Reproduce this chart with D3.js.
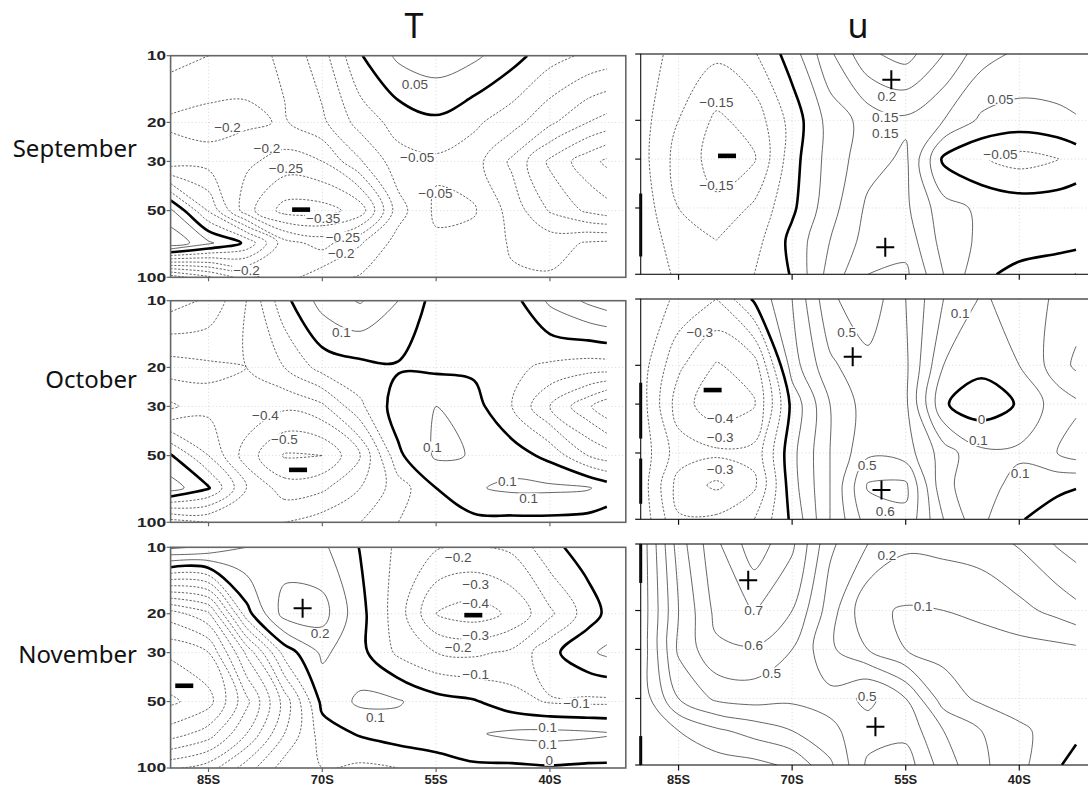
<!DOCTYPE html>
<html>
<head>
<meta charset="utf-8">
<script src="https://cdn.jsdelivr.net/npm/d3@7"></script>
<style>
  body { margin: 0; background: #fff; }
  svg { display: block; }
</style>
</head>
<body>
<svg id="chart" width="1088" height="787"></svg>
<script>
// grid: latitude (deg S) by pressure level (hPa)
const lats = [90, 85, 80, 75, 70, 65, 60, 55, 50, 45, 40, 35, 32.5];
const levels = [10, 20, 30, 50, 70, 100];

const tSep = [
  [-0.27, -0.25, -0.22, -0.19, -0.12, -0.004, 0.06, 0.08, 0.06, 0.02, -0.03, -0.06, -0.07],
  [-0.19, -0.18, -0.19, -0.205, -0.16, -0.08, -0.03, -0.01, -0.04, -0.08, -0.14, -0.2, -0.22],
  [-0.23, -0.22, -0.24, -0.27, -0.25, -0.155, -0.07, -0.06, -0.08, -0.16, -0.26, -0.33, -0.36],
  [0.06, -0.105, -0.28, -0.37, -0.37, -0.33, -0.12, -0.04, -0.045, -0.12, -0.205, -0.26, -0.28],
  [0.14, 0.06, -0.01, -0.18, -0.22, -0.155, -0.08, -0.06, -0.07, -0.105, -0.12, -0.095, -0.09],
  [-0.38, -0.31, -0.22, -0.17, -0.12, -0.095, -0.08, -0.07, -0.08, -0.095, -0.095, -0.08, -0.07]
];
const tOct = [
  [-0.55, -0.48, -0.3, -0.03, 0.14, 0.21, 0.1, -0.04, -0.05, -0.04, 0.12, 0.22, 0.26],
  [-0.25, -0.28, -0.3, -0.2, -0.06, -0.03, -0.01, -0.02, -0.02, -0.08, -0.12, -0.15, -0.15],
  [-0.42, -0.33, -0.32, -0.38, -0.32, -0.12, 0.05, 0.1, 0.04, -0.1, -0.3, -0.48, -0.58],
  [0.01, -0.2, -0.45, -0.61, -0.6, -0.4, -0.02, 0.115, 0.095, 0.05, -0.03, -0.2, -0.25],
  [0.15, 0.01, -0.3, -0.45, -0.42, -0.3, -0.15, 0.0, 0.09, 0.12, 0.12, 0.11, 0.06],
  [-0.45, -0.4, -0.35, -0.3, -0.25, -0.2, -0.1, -0.05, -0.03, -0.03, -0.03, -0.04, -0.05]
];
const tNov = [
  [0.32, 0.28, 0.2, 0.15, 0.12, -0.005, -0.12, -0.19, -0.21, -0.18, -0.03, 0.05, 0.1],
  [-0.75, -0.62, -0.04, 0.24, 0.24, 0.03, -0.15, -0.4, -0.45, -0.38, -0.22, -0.05, 0.02],
  [-0.98, -0.9, -0.48, -0.06, 0.12, 0.03, -0.12, -0.2, -0.22, -0.18, -0.03, 0.08, 0.12],
  [-1.12, -1.04, -0.73, -0.36, 0.03, 0.12, 0.11, 0.04, 0.01, -0.06, -0.11, -0.12, -0.12],
  [-0.95, -0.85, -0.6, -0.3, -0.05, 0.01, 0.05, 0.07, 0.09, 0.12, 0.13, 0.12, 0.11],
  [-0.62, -0.55, -0.35, -0.15, -0.1, -0.12, -0.1, -0.06, -0.02, -0.02, -0.01, -0.02, -0.02]
];
const uSep = [
  [-0.02, -0.07, -0.09, -0.055, 0.025, 0.14, 0.24, 0.27, 0.2, 0.12, 0.09, 0.08, 0.07],
  [-0.03, -0.1, -0.16, -0.13, -0.03, 0.07, 0.12, 0.14, 0.1, 0.04, 0.03, 0.04, 0.048],
  [-0.03, -0.12, -0.17, -0.155, -0.02, 0.07, 0.13, 0.16, -0.01, -0.045, -0.07, -0.052, -0.03],
  [-0.02, -0.1, -0.14, -0.09, -0.01, 0.08, 0.16, 0.16, 0.07, 0.04, 0.03, 0.03, 0.03],
  [-0.01, -0.08, -0.1, -0.07, 0.015, 0.1, 0.17, 0.18, 0.08, 0.04, 0.025, 0.02, 0.02],
  [-0.01, -0.06, -0.08, -0.05, 0.004, 0.12, 0.2, 0.21, 0.1, 0.01, -0.015, -0.03, -0.052]
];
const uOct = [
  [-0.03, -0.12, -0.2, 0.02, 0.2, 0.48, 0.57, 0.4, 0.2, 0.09, 0.13, 0.22, 0.25],
  [-0.05, -0.28, -0.41, -0.35, 0.15, 0.38, 0.47, 0.42, 0.1, 0.03, 0.1, 0.25, 0.32],
  [-0.05, -0.35, -0.47, -0.41, 0.03, 0.3, 0.45, 0.42, 0.01, -0.06, 0.01, 0.15, 0.18],
  [-0.04, -0.25, -0.28, -0.27, 0.07, 0.3, 0.48, 0.45, 0.25, 0.12, 0.12, 0.2, 0.25],
  [-0.04, -0.34, -0.42, -0.32, 0.06, 0.3, 0.61, 0.62, 0.22, 0.15, 0.06, 0.03, 0.01],
  [-0.03, -0.29, -0.28, -0.2, 0.02, 0.3, 0.55, 0.58, 0.3, 0.12, 0.01, -0.06, -0.08]
];
const uNov = [
  [0.03, 0.45, 0.68, 0.86, 0.72, 0.42, 0.3, 0.22, 0.23, 0.25, 0.31, 0.41, 0.45],
  [0.03, 0.4, 0.63, 0.705, 0.6, 0.35, 0.12, 0.09, 0.1, 0.12, 0.17, 0.23, 0.27],
  [0.03, 0.42, 0.58, 0.59, 0.5, 0.32, 0.2, 0.1, 0.07, 0.06, 0.06, 0.07, 0.08],
  [0.03, 0.3, 0.42, 0.44, 0.42, 0.43, 0.53, 0.4, 0.15, 0.08, 0.05, 0.04, 0.05],
  [0.02, 0.1, 0.18, 0.24, 0.3, 0.38, 0.45, 0.47, 0.3, 0.2, 0.12, 0.06, 0.02],
  [0.01, 0.03, 0.05, 0.07, 0.12, 0.28, 0.52, 0.55, 0.35, 0.22, 0.13, 0.01, -0.03]
];

// contour labels: [lat, hPa, text]
const tSepLabels = [[57.8, 13.5, "0.05"], [82.5, 21.1, "−0.2"], [77.3, 26.0, "−0.2"], [74.8, 32, "−0.25"],
  [57.5, 28.6, "−0.05"], [55.1, 41.8, "−0.05"], [69.9, 53.8, "−0.35"], [67.3, 65.6, "−0.25"],
  [67.5, 78, "−0.2"], [80.0, 92.7, "−0.2"]];
const uSepLabels = [[80, 16.6, "−0.15"], [80, 39.3, "−0.15"], [57.5, 15.6, "0.2"], [57.7, 19.3, "0.15"],
  [57.7, 22.8, "0.15"], [42.5, 16, "0.05"], [42.5, 28.5, "−0.05"]];
const tOctLabels = [[67.5, 13.9, "0.1"], [77.5, 33, "−0.4"], [75, 42.2, "−0.5"], [55.5, 45.6, "0.1"],
  [45.6, 65, "0.1"], [42.8, 78, "0.1"]];
const uOctLabels = [[47.8, 11.6, "0.1"], [82.2, 14.1, "−0.3"], [62.8, 14.1, "0.5"], [79.5, 34.8, "−0.4"],
  [45, 35, "0"], [79.5, 42.2, "−0.3"], [45.4, 43.7, "0.1"], [79.5, 59.3, "−0.3"], [60.1, 56.7, "0.5"],
  [39.9, 61.8, "0.1"], [57.7, 91.7, "0.6"]];
const tNovLabels = [[52.1, 11.1, "−0.2"], [49.8, 14.7, "−0.3"], [49.8, 17.9, "−0.4"], [70.3, 24.5, "0.2"],
  [49.8, 25, "−0.3"], [52.1, 28.4, "−0.2"], [49.8, 37.5, "−0.1"], [36.5, 50.6, "−0.1"], [63, 58.9, "0.1"],
  [40.3, 65.5, "0.1"], [40.3, 78, "0.1"], [40.1, 92, "0"]];
const uNovLabels = [[57.5, 11.2, "0.2"], [52.7, 19.1, "0.1"], [75.1, 19.9, "0.7"], [75.1, 28.6, "0.6"],
  [72.7, 38.2, "0.5"], [60.1, 48.6, "0.5"]];

// extremum markers: [lat, hPa, sign]
const tSepMarks = [[72.8, 49.5, "-"]];
const uSepMarks = [[56.9, 13.1, "+"], [57.7, 75.3, "+"], [78.6, 29, "-"]];
const tOctMarks = [[73.2, 58, "-"]];
const uOctMarks = [[62.0, 18.3, "+"], [58.2, 73.6, "+"], [80.5, 25.9, "-"]];
const tNovMarks = [[72.6, 18.9, "+"], [50.1, 20.3, "-"], [88.2, 42.4, "-"]];
const uNovMarks = [[75.8, 14.6, "+"], [59.0, 67.1, "+"]];

// zero line lying on the 90S edge of the u panels: [from hPa, to hPa]
const uSepEdge = [[43, 83]];
const uOctEdge = [[24, 43], [53, 85]];
const uNovEdge = [[10, 15], [74, 100]];

const latTicks = [85, 70, 55, 40];
const latTickLabels = ["85S", "70S", "55S", "40S"];
const pTicks = [10, 20, 30, 50, 100];
const pTickLabels = ["10", "20", "30", "50", "100"];
const pGrid = [20, 30, 50];
const months = ["September", "October", "November"];
const titles = ["T", "u"];

const layout = {
  cols: [{x0: 170.6, x1: 625.8, frame: "#666", fw: 1.6, tick: 4, titleX: 414},
         {x0: 640.7, x1: 1095, frame: "#111", fw: 1.1, tick: 5.5, titleX: 858}],
  rows: [[[55.7, 277.3], [54, 274.3]], [[300.7, 522.3], [299, 519.3]], [[547.3, 768], [544, 765]]],
  monthBaseline: [157, 388, 663],
  xLabelBaseline: 784
};

const panels = [
  {row: 0, col: 0, grid: tSep, step: 0.05, labels: tSepLabels, marks: tSepMarks, edge: []},
  {row: 0, col: 1, grid: uSep, step: 0.05, labels: uSepLabels, marks: uSepMarks, edge: uSepEdge},
  {row: 1, col: 0, grid: tOct, step: 0.1, labels: tOctLabels, marks: tOctMarks, edge: []},
  {row: 1, col: 1, grid: uOct, step: 0.1, labels: uOctLabels, marks: uOctMarks, edge: uOctEdge},
  {row: 2, col: 0, grid: tNov, step: 0.1, labels: tNovLabels, marks: tNovMarks, edge: []},
  {row: 2, col: 1, grid: uNov, step: 0.1, labels: uNovLabels, marks: uNovMarks, edge: uNovEdge}
];

const nx = lats.length, ny = levels.length;
const logLev = levels.map(Math.log10);

// d3.contours puts value i at i+0.5; shift back and interpolate to lat / log p
function gridToLatP(pt) {
  const xi = Math.max(0, Math.min(nx - 1, pt[0] - 0.5));
  const yi = Math.max(0, Math.min(ny - 1, pt[1] - 0.5));
  const i0 = Math.min(Math.floor(xi), nx - 2), fx = xi - i0;
  const j0 = Math.min(Math.floor(yi), ny - 2), fy = yi - j0;
  const lat = lats[i0] + (lats[i0 + 1] - lats[i0]) * fx;
  const lp = logLev[j0] + (logLev[j0 + 1] - logLev[j0]) * fy;
  return [lat, Math.pow(10, lp)];
}

function onEdge(p) {
  return p[0] <= 0 || p[0] >= nx || p[1] <= 0 || p[1] >= ny;
}

// cut the polygon rings into the real contour lines (drop the bits along the frame)
function splitRing(ring) {
  const pts = ring.slice();
  const a = pts[0], b = pts[pts.length - 1];
  if (a[0] === b[0] && a[1] === b[1]) pts.pop();
  const start = pts.findIndex(onEdge);
  if (start < 0) return [{pts: pts, closed: true}];
  const rot = pts.slice(start).concat(pts.slice(0, start));
  rot.push(rot[0]);
  const out = [];
  let cur = [];
  for (let i = 0; i < rot.length - 1; i++) {
    const p = rot[i], q = rot[i + 1];
    if (onEdge(p) || onEdge(q)) {
      if (cur.length > 1) out.push({pts: cur, closed: false});
      cur = [];
      continue;
    }
    if (!cur.length) cur.push(p);
    cur.push(q);
  }
  if (cur.length > 1) out.push({pts: cur, closed: false});
  return out;
}

function contourLines(grid, step) {
  const values = grid.flat();
  const [lo, hi] = d3.extent(values);
  const ks = d3.range(Math.ceil(lo / step - 1e-9), Math.floor(hi / step + 1e-9) + 1);
  const gen = d3.contours().size([nx, ny]);
  const lines = [];
  ks.forEach(k => {
    const t = +(k * step).toFixed(3);
    const c = gen.contour(values, t + 1e-6);
    c.coordinates.forEach(poly => poly.forEach(ring => {
      splitRing(ring).forEach(l => {
        lines.push({value: t, closed: l.closed, pts: l.pts.map(gridToLatP)});
      });
    }));
  });
  return lines;
}

const svg = d3.select("#chart");
const defs = svg.append("defs");
const openLine = d3.line().curve(d3.curveCatmullRom.alpha(0.5));
const closedLine = d3.line().curve(d3.curveCatmullRomClosed.alpha(0.5));

panels.forEach((pn, i) => {
  const c = layout.cols[pn.col];
  const [y0, y1] = layout.rows[pn.row][pn.col];
  const x = d3.scaleLinear().domain([90, 30]).range([c.x0, c.x1]);
  const y = d3.scaleLog().domain([10, 100]).range([y0, y1]);

  defs.append("clipPath").attr("id", "clip" + i)
    .append("rect").attr("x", c.x0).attr("y", y0)
    .attr("width", c.x1 - c.x0).attr("height", y1 - y0);

  const g = svg.append("g");
  const inner = g.append("g").attr("clip-path", `url(#clip${i})`);

  // dotted grid
  inner.selectAll(".vg").data(latTicks).join("line")
    .attr("x1", d => x(d)).attr("x2", d => x(d)).attr("y1", y0).attr("y2", y1)
    .attr("stroke", "#c8c8c8").attr("stroke-width", 0.7).attr("stroke-dasharray", "1,2.5");
  inner.selectAll(".hg").data(pGrid).join("line")
    .attr("x1", c.x0).attr("x2", c.x1).attr("y1", d => y(d)).attr("y2", d => y(d))
    .attr("stroke", "#c8c8c8").attr("stroke-width", 0.7).attr("stroke-dasharray", "1,2.5");

  // contours
  const lines = contourLines(pn.grid, pn.step).map(l => {
    const px = [];
    l.pts.forEach(p => {
      const q = [x(p[0]), y(p[1])];
      const last = px[px.length - 1];
      if (!last || Math.hypot(q[0] - last[0], q[1] - last[1]) > 0.3) px.push(q);
    });
    return {value: l.value, closed: l.closed, px: px};
  }).filter(l => l.px.length > 1);
  lines.sort((a, b) => (a.value === 0) - (b.value === 0));

  inner.selectAll(".ct").data(lines).join("path")
    .attr("d", d => d.closed ? closedLine(d.px) : openLine(d.px))
    .attr("fill", "none")
    .attr("stroke", d => d.value === 0 ? "#000" : "#4a4a4a")
    .attr("stroke-width", d => d.value === 0 ? 2.6 : 0.85)
    .attr("stroke-dasharray", d => d.value < 0 ? "2.2,1.6" : null)
    .attr("stroke-linejoin", "round");

  // zero contour running along the pole edge
  g.selectAll(".edge").data(pn.edge).join("line")
    .attr("x1", c.x0).attr("x2", c.x0)
    .attr("y1", d => y(d[0])).attr("y2", d => y(d[1]))
    .attr("stroke", "#000").attr("stroke-width", 3);

  // contour labels with knock-out background
  const lab = inner.selectAll(".lab").data(pn.labels).join("g")
    .attr("transform", d => `translate(${x(d[0])},${y(d[1])})`);
  lab.append("text")
    .attr("text-anchor", "middle").attr("dy", "0.36em")
    .attr("font-family", "'Liberation Sans', Arial, sans-serif")
    .attr("font-size", 13.5).attr("fill", "#505050")
    .text(d => d[2]);
  lab.each(function() {
    const t = d3.select(this).select("text");
    const bb = t.node().getBBox();
    d3.select(this).insert("rect", "text")
      .attr("x", bb.x - 1).attr("y", bb.y + 2)
      .attr("width", bb.width + 2).attr("height", bb.height - 4)
      .attr("fill", "#fff");
  });

  // + / - markers
  const mk = g.selectAll(".mk").data(pn.marks).join("g")
    .attr("transform", d => `translate(${x(d[0])},${y(d[1])})`);
  mk.filter(d => d[2] === "+").append("path")
    .attr("d", "M-9,0H9M0,-9.5V9.5")
    .attr("stroke", "#000").attr("stroke-width", 2).attr("fill", "none");
  mk.filter(d => d[2] === "-").append("rect")
    .attr("x", -9).attr("y", -2.3).attr("width", 18).attr("height", 4.6)
    .attr("fill", "#000");

  // frame and ticks
  g.append("rect").attr("x", c.x0).attr("y", y0)
    .attr("width", c.x1 - c.x0).attr("height", y1 - y0)
    .attr("fill", "none").attr("stroke", c.frame).attr("stroke-width", c.fw);
  g.selectAll(".yt").data(pTicks).join("line")
    .attr("x1", c.x0 - c.tick).attr("x2", c.x0).attr("y1", d => y(d)).attr("y2", d => y(d))
    .attr("stroke", c.frame).attr("stroke-width", 1.2);
  g.selectAll(".xt").data(latTicks).join("line")
    .attr("x1", d => x(d)).attr("x2", d => x(d)).attr("y1", y1).attr("y2", y1 + c.tick)
    .attr("stroke", c.frame).attr("stroke-width", 1.2);

  if (pn.col === 0) {
    g.selectAll(".yl").data(pTicks).join("text")
      .attr("x", c.x0 - 4.5).attr("y", d => y(d)).attr("dy", "0.36em")
      .attr("text-anchor", "end")
      .attr("font-family", "'Liberation Sans', Arial, sans-serif")
      .attr("font-weight", "bold").attr("font-size", 12).attr("fill", "#222")
      .attr("textLength", (d, k) => pTickLabels[k].length * 10 - 1)
      .attr("lengthAdjust", "spacingAndGlyphs")
      .text((d, k) => pTickLabels[k]);
  }
  if (pn.row === 2) {
    g.selectAll(".xl").data(latTicks).join("text")
      .attr("x", d => x(d)).attr("y", layout.xLabelBaseline)
      .attr("text-anchor", "middle")
      .attr("font-family", "'Liberation Sans', Arial, sans-serif")
      .attr("font-weight", "bold").attr("font-size", 12.5).attr("fill", "#222")
      .attr("textLength", 23).attr("lengthAdjust", "spacingAndGlyphs")
      .text((d, k) => latTickLabels[k]);
  }
});

// column titles and month names
svg.selectAll(".title").data(titles).join("text")
  .attr("x", (d, k) => layout.cols[k].titleX).attr("y", 37.5)
  .attr("text-anchor", "middle")
  .attr("font-family", "'Noto Sans', 'Open Sans', sans-serif")
  .attr("font-size", 34).attr("fill", "#111")
  .text(d => d);

svg.selectAll(".month").data(months).join("text")
  .attr("x", 137).attr("y", (d, k) => layout.monthBaseline[k])
  .attr("text-anchor", "end")
  .attr("font-family", "'Noto Sans', 'Open Sans', sans-serif")
  .attr("font-size", 24).attr("fill", "#111")
  .text(d => d);
</script>
</body>
</html>
